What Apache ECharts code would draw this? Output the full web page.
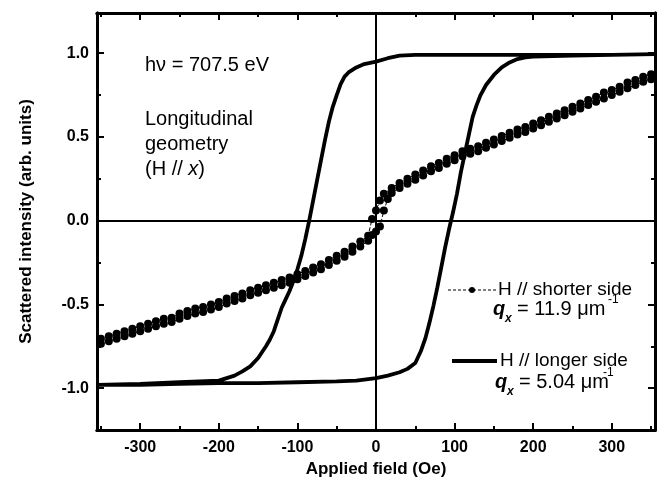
<!DOCTYPE html>
<html><head><meta charset="utf-8">
<script src="https://cdn.jsdelivr.net/npm/echarts@6/dist/echarts.min.js"></script>
<style>html,body{margin:0;padding:0;background:#fff}#c{width:664px;height:489px}</style>
</head><body><div id="c"></div>
<script>
// ---- axis ticks / labels ----
const xMajorTicks = [-300, -200, -100, 0, 100, 200, 300];
const xMinorTicks = [-350, -250, -150, -50, 50, 150, 250, 350];
const yMajorTicks = [-1.0, -0.5, 0.0, 0.5, 1.0];
const yMinorTicks = [-1.25, -0.75, -0.25, 0.25, 0.75];
const xRange = [-355, 355];
const yRange = [-1.25, 1.24];

// ---- H // longer side (qx = 5.04 um^-1): hysteresis loop ----
// descending branch (field from +355 to -355)
const longDownField = [355, 300, 250, 200, 150, 100, 50, 30, 15, 0, -15, -25, -35, -40, -45, -50, -55, -60, -65, -70, -75, -80, -85, -90, -95, -100, -105, -110, -115, -120, -125, -130, -135, -140, -150, -160, -170, -180, -190, -200, -250, -300, -355];
const longDownValue = [0.995, 0.99, 0.99, 0.99, 0.99, 0.99, 0.99, 0.985, 0.97, 0.95, 0.935, 0.915, 0.885, 0.86, 0.815, 0.75, 0.68, 0.59, 0.48, 0.36, 0.24, 0.12, 0.0, -0.11, -0.21, -0.29, -0.36, -0.42, -0.47, -0.52, -0.59, -0.66, -0.71, -0.75, -0.82, -0.87, -0.90, -0.925, -0.94, -0.955, -0.965, -0.975, -0.98];
// ascending branch (field from -355 to +355)
const longUpField = [-355, -300, -250, -200, -150, -100, -50, -25, 0, 15, 30, 40, 50, 57, 63, 68, 73, 78, 83, 88, 93, 98, 103, 108, 113, 118, 123, 128, 133, 140, 150, 160, 170, 180, 190, 200, 250, 300, 355];
const longUpValue = [-0.985, -0.98, -0.975, -0.97, -0.97, -0.965, -0.96, -0.955, -0.94, -0.925, -0.905, -0.885, -0.85, -0.78, -0.70, -0.61, -0.51, -0.40, -0.28, -0.16, -0.05, 0.05, 0.16, 0.29, 0.40, 0.51, 0.62, 0.69, 0.75, 0.81, 0.87, 0.915, 0.945, 0.965, 0.975, 0.98, 0.985, 0.99, 0.995];

// ---- H // shorter side (qx = 11.9 um^-1): dotted data ----
const shortDownField = [350, 340, 330, 320, 310, 300, 290, 280, 270, 260, 250, 240, 230, 220, 210, 200, 190, 180, 170, 160, 150, 140, 130, 120, 110, 100, 90, 80, 70, 60, 50, 40, 30, 20, 10, 5, 0, -5, -10, -20, -30, -40, -50, -60, -70, -80, -90, -100, -110, -120, -130, -140, -150, -160, -170, -180, -190, -200, -210, -220, -230, -240, -250, -260, -270, -280, -290, -300, -310, -320, -330, -340, -350];
const shortDownValue = [0.875, 0.86, 0.84, 0.825, 0.80, 0.78, 0.765, 0.74, 0.72, 0.70, 0.68, 0.66, 0.64, 0.62, 0.60, 0.58, 0.56, 0.545, 0.525, 0.505, 0.485, 0.465, 0.445, 0.43, 0.415, 0.39, 0.37, 0.345, 0.325, 0.30, 0.275, 0.25, 0.225, 0.195, 0.16, 0.12, 0.06, 0.01, -0.09, -0.125, -0.155, -0.185, -0.21, -0.235, -0.26, -0.28, -0.30, -0.32, -0.34, -0.355, -0.37, -0.385, -0.40, -0.415, -0.435, -0.45, -0.465, -0.485, -0.50, -0.515, -0.525, -0.54, -0.555, -0.58, -0.585, -0.60, -0.615, -0.63, -0.645, -0.66, -0.675, -0.69, -0.705];
const shortUpField = [-350, -340, -330, -320, -310, -300, -290, -280, -270, -260, -250, -240, -230, -220, -210, -200, -190, -180, -170, -160, -150, -140, -130, -120, -110, -100, -90, -80, -70, -60, -50, -40, -30, -20, -10, -5, 0, 5, 10, 15, 20, 30, 40, 50, 60, 70, 80, 90, 100, 110, 120, 130, 140, 150, 160, 170, 180, 190, 200, 210, 220, 230, 240, 250, 260, 270, 280, 290, 300, 310, 320, 330, 340, 350];
const shortUpValue = [-0.735, -0.72, -0.705, -0.69, -0.675, -0.66, -0.645, -0.63, -0.615, -0.605, -0.585, -0.57, -0.555, -0.545, -0.53, -0.515, -0.495, -0.48, -0.465, -0.445, -0.43, -0.415, -0.40, -0.385, -0.37, -0.35, -0.33, -0.31, -0.29, -0.265, -0.24, -0.215, -0.185, -0.155, -0.12, -0.085, -0.065, -0.035, 0.06, 0.13, 0.165, 0.195, 0.22, 0.245, 0.27, 0.295, 0.315, 0.34, 0.36, 0.385, 0.40, 0.415, 0.435, 0.455, 0.475, 0.495, 0.515, 0.53, 0.55, 0.57, 0.59, 0.61, 0.63, 0.65, 0.67, 0.69, 0.71, 0.73, 0.75, 0.77, 0.79, 0.81, 0.83, 0.845];

const FONT = 'Liberation Sans, Arial, Helvetica, sans-serif';
const zip = (a, b) => a.map((v, i) => [v, b[i]]);

function xAx(gridIndex, position, ticks, len, withLabels) {
  return {
    type: 'value', gridIndex, position, min: xRange[0], max: xRange[1],
    axisLine: { show: true, onZero: false, lineStyle: { color: '#000', width: 3 } },
    axisTick: { show: true, inside: true, length: len, customValues: ticks, lineStyle: { color: '#000', width: 2 } },
    axisLabel: withLabels ? { show: true, customValues: xMajorTicks, margin: 10, color: '#000',
      fontFamily: FONT, fontSize: 16, fontWeight: 'bold' } : { show: false },
    splitLine: { show: false },
    name: withLabels ? 'Applied field (Oe)' : '',
    nameLocation: 'middle', nameGap: 30,
    nameTextStyle: { color: '#000', fontFamily: FONT, fontSize: 17, fontWeight: 'bold' }
  };
}
function yAx(gridIndex, position, ticks, len, withLabels) {
  return {
    type: 'value', gridIndex, position, min: yRange[0], max: yRange[1],
    axisLine: { show: true, onZero: false, lineStyle: { color: '#000', width: 3 } },
    axisTick: { show: true, inside: true, length: len, customValues: ticks, lineStyle: { color: '#000', width: 2 } },
    axisLabel: withLabels ? { show: true, customValues: yMajorTicks, margin: 8, color: '#000',
      fontFamily: FONT, fontSize: 16, fontWeight: 'bold', formatter: v => v.toFixed(1) } : { show: false },
    splitLine: { show: false },
    name: withLabels ? 'Scattered intensity (arb. units)' : '',
    nameLocation: 'middle', nameGap: 62,
    nameTextStyle: { color: '#000', fontFamily: FONT, fontSize: 17, fontWeight: 'bold' }
  };
}
const gridBox = { left: 97, right: 9, top: 13, bottom: 59, containLabel: false };

function txt(x, y, text, size, extra) {
  return { type: 'text', x: x, y: y, silent: true,
    style: Object.assign({ text: text, fill: '#000', font: 'normal ' + size + 'px ' + FONT,
      textAlign: 'left', textVerticalAlign: 'middle', align: 'left', verticalAlign: 'middle' }, extra || {}) };
}
function qLine(x, y, valueText, supX) {
  return [
    txt(x, y, 'q', 20, { font: 'italic bold 20px ' + FONT }),
    txt(x + 12, y + 10, 'x', 12, { font: 'italic bold 12px ' + FONT }),
    txt(x + 24, y, valueText, 20),
    txt(supX, y - 9, '-1', 12, { font: 'normal 12px ' + FONT })
  ];
}

const option = {
  backgroundColor: '#fff',
  animation: false,
  grid: [Object.assign({}, gridBox), Object.assign({}, gridBox)],
  xAxis: [
    xAx(0, 'bottom', xMajorTicks, 7, true),
    xAx(0, 'top', xMajorTicks, 7, false),
    xAx(1, 'bottom', xMinorTicks, 4, false),
    xAx(1, 'top', xMinorTicks, 4, false)
  ],
  yAxis: [
    yAx(0, 'left', yMajorTicks, 7, true),
    yAx(0, 'right', yMajorTicks, 7, false),
    yAx(1, 'left', yMinorTicks, 4, false),
    yAx(1, 'right', yMinorTicks, 4, false)
  ],
  series: [
    {
      name: 'H // shorter side', type: 'line', xAxisIndex: 0, yAxisIndex: 0,
      data: zip(shortDownField, shortDownValue).concat(zip(shortUpField, shortUpValue)),
      symbol: 'circle', symbolSize: 8, showSymbol: true,
      itemStyle: { color: '#000' },
      lineStyle: { color: '#000', width: 1, type: 'dashed' }, z: 3
    },
    {
      name: 'H // longer side', type: 'line', xAxisIndex: 0, yAxisIndex: 0,
      data: zip(longDownField, longDownValue).concat(zip(longUpField, longUpValue)),
      symbol: 'none', lineStyle: { color: '#000', width: 3.8 }, z: 4,
      markLine: {
        silent: true, symbol: ['none', 'none'], label: { show: false },
        lineStyle: { color: '#000', width: 2, type: 'solid' },
        data: [{ xAxis: 0 }, { yAxis: 0 }]
      }
    }
  ],
  graphic: [
    txt(145, 65, 'h\u03bd = 707.5 eV', 20),
    txt(145, 119, 'Longitudinal', 20),
    txt(145, 144, 'geometry', 20),
    txt(145, 169, '(H // {i|x})', 20, { rich: { i: { font: 'italic 20px ' + FONT, fill: '#000' } } }),
    { type: 'line', silent: true, shape: { x1: 448, y1: 290, x2: 497, y2: 290 },
      style: { stroke: '#000', lineWidth: 1.2, lineDash: [3, 2] } },
    { type: 'circle', silent: true, shape: { cx: 472, cy: 290, r: 3 }, style: { fill: '#000' } },
    txt(498, 290, 'H // shorter side', 19),
    ...qLine(493, 309, '= 11.9 \u03bcm', 608),
    { type: 'line', silent: true, shape: { x1: 452, y1: 361, x2: 497, y2: 361 },
      style: { stroke: '#000', lineWidth: 4 } },
    txt(500, 361, 'H // longer side', 19),
    ...qLine(495, 382, '= 5.04 \u03bcm', 603)
  ]
};
echarts.init(document.getElementById('c'), null, { renderer: 'canvas' }).setOption(option);
</script></body></html>
